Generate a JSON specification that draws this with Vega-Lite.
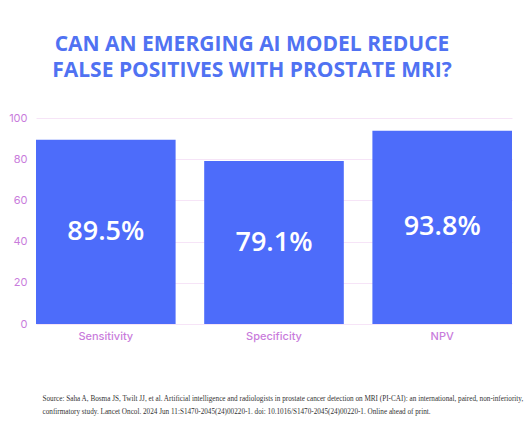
{
  "$schema": "https://vega.github.io/schema/vega-lite/v6.json",
  "width": 476,
  "height": 206,
  "autosize": {"type": "none"},
  "padding": {"left": 36, "top": 118, "right": 18, "bottom": 118},
  "background": "white",
  "title": {
    "text": ["CAN AN EMERGING AI MODEL REDUCE", "FALSE POSITIVES WITH PROSTATE MRI?"],
    "font": "Open Sans",
    "fontSize": 21,
    "fontWeight": 700,
    "color": "#5072f2",
    "anchor": "middle",
    "frame": "group",
    "dx": -22,
    "offset": 31,
    "lineHeight": 26
  },
  "data": {
    "values": [
      {"metric": "Sensitivity", "value": 89.5, "label": "89.5%"},
      {"metric": "Specificity", "value": 79.1, "label": "79.1%"},
      {"metric": "NPV", "value": 93.8, "label": "93.8%"}
    ]
  },
  "config": {
    "view": {"stroke": null}
  },
  "encoding": {
    "x": {
      "field": "metric",
      "type": "nominal",
      "sort": null,
      "scale": {"paddingInner": 0.17, "paddingOuter": 0},
      "axis": {
        "labelAngle": 0,
        "domain": false,
        "ticks": false,
        "labelPadding": 6,
        "labelFont": "Inter",
        "labelFontSize": 11,
        "labelFontWeight": 500,
        "labelColor": "#c97cdc",
        "title": [
          "Source: Saha A, Bosma JS, Twilt JJ, et al. Artificial intelligence and radiologists in prostate cancer detection on MRI (PI-CAI): an international, paired, non-inferiority,",
          "confirmatory study. Lancet Oncol. 2024 Jun 11:S1470-2045(24)00220-1. doi: 10.1016/S1470-2045(24)00220-1. Online ahead of print."
        ],
        "titleFont": "Liberation Serif",
        "titleFontSize": 7.2,
        "titleFontWeight": "normal",
        "titleColor": "#333333",
        "titleAlign": "left",
        "titleBaseline": "top",
        "titleX": 6,
        "titleY": 70,
        "titleLineHeight": 13.5
      }
    }
  },
  "layer": [
    {
      "mark": {"type": "bar", "color": "#4d6cfa"},
      "encoding": {
        "y": {
          "field": "value",
          "type": "quantitative",
          "scale": {"domain": [0, 100]},
          "axis": {
            "title": null,
            "values": [0, 20, 40, 60, 80, 100],
            "domain": false,
            "ticks": false,
            "labelPadding": 9,
            "labelFont": "Inter",
            "labelFontSize": 11,
            "labelColor": "#c97cdc",
            "gridColor": "#f6e4f7",
            "gridWidth": 1
          }
        }
      }
    },
    {
      "transform": [{"calculate": "datum.value / 2", "as": "mid"}],
      "mark": {"type": "text", "color": "white", "font": "Open Sans", "fontSize": 27, "fontWeight": 600, "baseline": "middle"},
      "encoding": {
        "y": {"field": "mid", "type": "quantitative"},
        "text": {"field": "label"}
      }
    }
  ]
}
